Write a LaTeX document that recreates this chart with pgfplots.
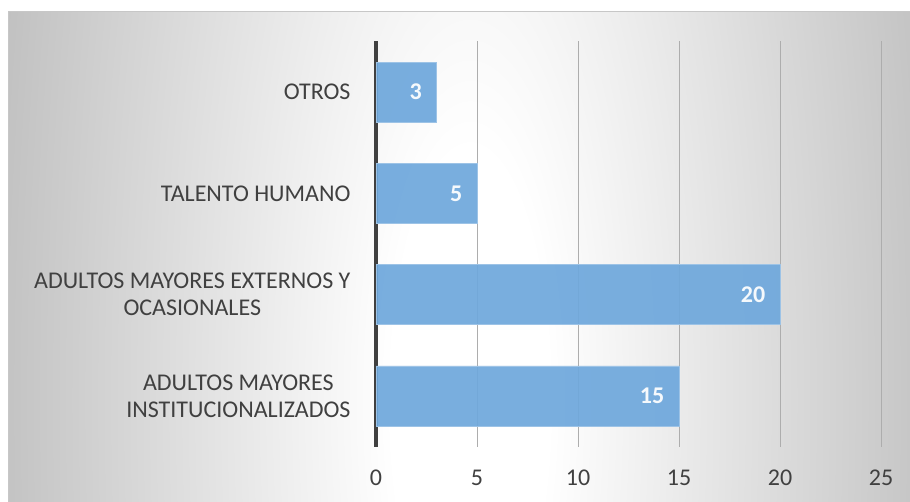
\documentclass[border=0pt]{standalone}
\usepackage{pgfplots}
\pgfplotsset{compat=1.18}
\usepackage{fontspec}
\setmainfont{Carlito}
\definecolor{barblue}{HTML}{6FA8DC}
\definecolor{baredge}{HTML}{9DC3E6}
\definecolor{axisdark}{HTML}{404040}
\definecolor{txt}{HTML}{404040}
\pgfdeclareradialshading{bgshade}{\pgfpoint{0bp}{0bp}}{color(0bp)=(white); color(4bp)=(white); color(25bp)=(black!25); color(40bp)=(black!32)}
\begin{document}
\begin{tikzpicture}[x=1pt,y=1pt]
\path[use as bounding box, fill=white] (0,0) rectangle (910,502);
\begin{scope}
\clip (8,0) rectangle (910,490);
\shade[shading=bgshade] (470-490,102-1550) rectangle (470+490,102+1550);
\end{scope}
\draw[black!22, line width=1pt] (8,0) -- (8,490) -- (910,490);
\begin{axis}[
  at={(376pt,55.4pt)}, anchor=south west,
  scale only axis, width=505pt, height=405.2pt,
  xbar, bar width=60pt,
  xmin=0, xmax=25, ymin=-0.5, ymax=3.5,
  xtick={0,5,10,15,20,25},
  ytick={0,1,2,3},
  yticklabels={{ADULTOS MAYORES\\INSTITUCIONALIZADOS},{ADULTOS MAYORES EXTERNOS Y\\OCASIONALES},{TALENTO HUMANO},{OTROS}},
  xmajorgrids, grid style={black!32, line width=0.9pt},
  extra x ticks={0}, extra x tick labels={},
  extra x tick style={grid style={axisdark, line width=4pt}},
  axis line style={draw=none},
  major tick length=0pt,
  /pgf/number format/assume math mode=true,
  tick label style={font=\fontsize{24}{27}\selectfont, text=txt},
  xticklabel style={anchor=north, yshift=-20pt},
  yticklabel style={anchor=east, align=center, xshift=-22pt},
  nodes near coords,
  nodes near coords style={anchor=east, xshift=-11pt, text=white, font=\fontsize{24}{27}\selectfont\bfseries},
  clip=false,
]
\addplot[fill=barblue, draw=baredge, fill opacity=0.93, line width=0.8pt]
  coordinates {(15,0) (20,1) (5,2) (3,3)};
\end{axis}
\end{tikzpicture}
\end{document}
